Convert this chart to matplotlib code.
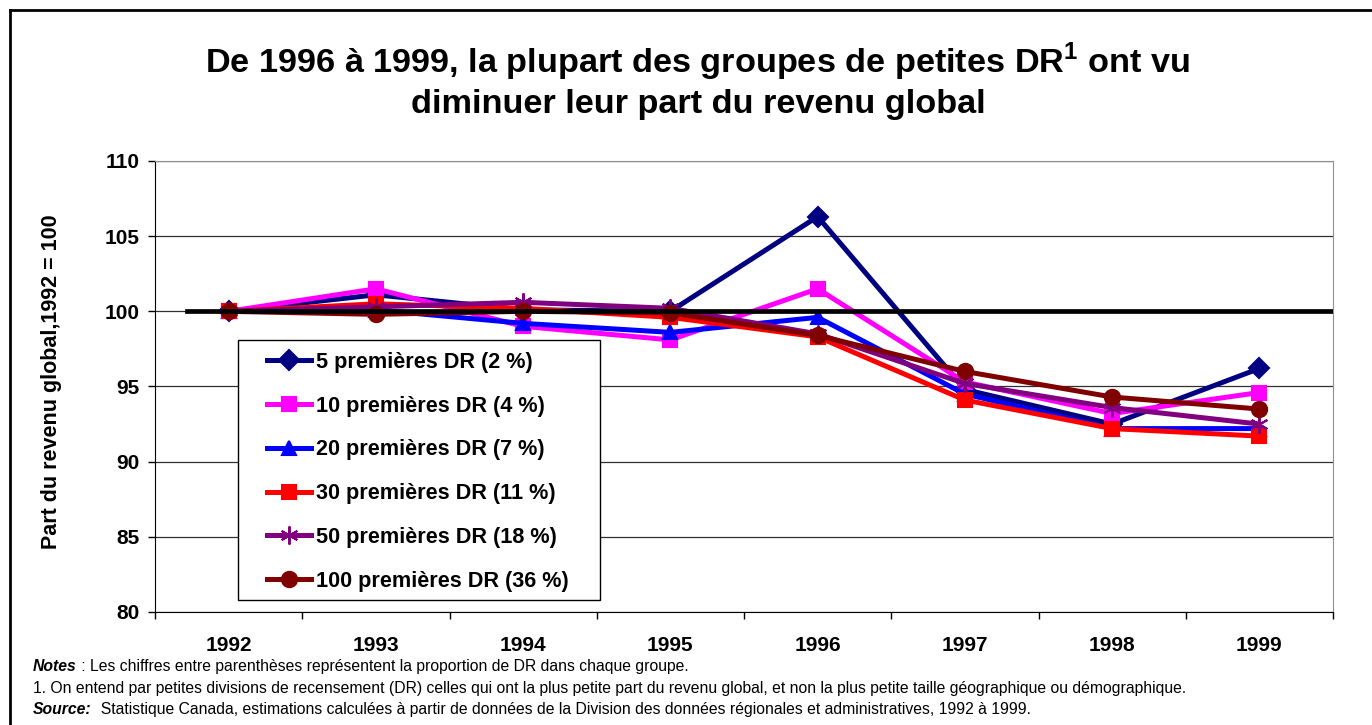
import numpy as np
import matplotlib
matplotlib.use("Agg")
import matplotlib.pyplot as plt
from matplotlib.lines import Line2D
from matplotlib.patches import Rectangle

plt.rcParams['font.family'] = ['Liberation Sans', 'DejaVu Sans']
plt.rcParams['mathtext.fontset'] = 'custom'
plt.rcParams['mathtext.bf'] = 'Liberation Sans:bold'
plt.rcParams['mathtext.rm'] = 'Liberation Sans'

###
### data
###

years = ['1992', '1993', '1994', '1995', '1996', '1997', '1998', '1999']

labels = ['5 premières DR (2 %)', '10 premières DR (4 %)', '20 premières DR (7 %)',
          '30 premières DR (11 %)', '50 premières DR (18 %)', '100 premières DR (36 %)']

dr5   = [100.0, 101.1, 100.1, 100.0, 106.3, 94.8, 92.5, 96.2]
dr10  = [100.0, 101.5,  99.0,  98.1, 101.5, 95.3, 93.2, 94.6]
dr20  = [100.0, 100.1,  99.2,  98.6,  99.6, 94.5, 92.2, 92.2]
dr30  = [100.0, 100.5, 100.2,  99.6,  98.3, 94.1, 92.2, 91.7]
dr50  = [100.0, 100.3, 100.6, 100.2,  98.5, 95.2, 93.6, 92.5]
dr100 = [100.0,  99.8, 100.0,  99.9,  98.4, 96.0, 94.3, 93.5]

base = 100

###
### plot
###

W, H = 1372, 725
fig = plt.figure(figsize=(W / 100, H / 100), dpi=100)
ax = fig.add_axes([155 / W, 1 - 612 / H, (1333 - 155) / W, (612 - 161) / H])

series = [dr5, dr10, dr20, dr30, dr50, dr100]
colors = ['#000080', '#FF00FF', '#0000FF', '#FF0000', '#800080', '#800000']
markers = ['D', 's', '^', 's', (6, 2, 0), 'o']
msizes = [10, 10.5, 10.5, 10.5, 13, 11]

x = np.arange(len(years))
for vals, lab, c, m, ms in zip(series, labels, colors, markers, msizes):
    ax.plot(x, vals, color=c, lw=3.6, marker=m, markersize=ms,
            markerfacecolor=c, markeredgecolor=c, markeredgewidth=1.5, label=lab)

# reference line at 100
ax.plot([-0.28, 7.5], [base, base], color='black', lw=3.4, zorder=5)

ax.set_xlim(-0.5, 7.5)
ax.set_ylim(80, 110)
ax.set_yticks(np.arange(80, 111, 5))
ax.yaxis.grid(True, color='#303030', lw=0.9)
ax.set_axisbelow(True)

ax.set_xticks(np.arange(-0.5, 8, 1))
ax.set_xticklabels([])
ax.set_xticks(x, minor=True)
ax.set_xticklabels(years, minor=True, fontsize=15, fontweight='bold')
ax.tick_params(axis='x', which='major', direction='out', length=5, width=1)
ax.tick_params(axis='x', which='minor', length=0, pad=17)
ax.tick_params(axis='y', direction='out', length=5, width=1, pad=6, labelsize=15)
for t in ax.get_yticklabels():
    t.set_fontweight('bold')

ax.spines['left'].set_color('black')
ax.spines['bottom'].set_color('black')
ax.spines['right'].set_color('#909090')
ax.spines['top'].set_color('#909090')

fig.text(52 / W, 1 - 382 / H, 'Part du revenu global,1992 = 100', rotation=90,
         fontsize=15.5, fontweight='bold', ha='center', va='center')

fig.text(698 / W, 1 - 62 / H,
         r'De 1996 à 1999, la plupart des groupes de petites DR$^{\mathbf{1}}$ ont vu',
         fontsize=24.7, fontweight='bold', ha='center', va='center')
fig.text(698 / W, 1 - 104 / H, 'diminuer leur part du revenu global',
         fontsize=24.7, fontweight='bold', ha='center', va='center')

# legend box drawn separately, legend itself without frame
ax.add_patch(Rectangle((238 / W, 1 - 600 / H), (600 - 238) / W, (600 - 340) / H,
                       transform=fig.transFigure, facecolor='white', edgecolor='black',
                       lw=1, zorder=9, clip_on=False))
leg = ax.legend(loc='upper left', bbox_to_anchor=(267 / W, 1 - 352 / H),
                bbox_transform=fig.transFigure, borderaxespad=0, borderpad=0,
                prop={'size': 15.6, 'weight': 'bold'}, frameon=False,
                handlelength=2.05, handletextpad=0.22, labelspacing=1.05)
leg.set_zorder(10)

# footnotes: bold italic lead word followed by regular text on the same baseline
fs = 11.3
renderer = fig.canvas.get_renderer()

def lead_line(y_px, lead, rest):
    t = fig.text(33 / W, 1 - y_px / H, lead, fontsize=fs, fontweight='bold',
                 fontstyle='italic', va='baseline')
    bb = t.get_window_extent(renderer)
    fig.text(bb.x1 / W, 1 - y_px / H, rest, fontsize=fs, va='baseline')

lead_line(671, 'Notes', ' : Les chiffres entre parenthèses représentent la proportion de DR '
          'dans chaque groupe.')
fig.text(33 / W, 1 - 693 / H,
         '1. On entend par petites divisions de recensement (DR) celles qui ont la plus petite part '
         'du revenu global, et non la plus petite taille géographique ou démographique.',
         fontsize=fs, va='baseline')
lead_line(714, 'Source:', '  Statistique Canada, estimations calculées à partir de données de '
          'la Division des données régionales et administratives, 1992 à 1999.')

# outer frame
fig.add_artist(Line2D([10 / W, 10 / W], [0, 1 - 10 / H], color='black', lw=2,
                      transform=fig.transFigure))
fig.add_artist(Line2D([10 / W, 1], [1 - 10 / H, 1 - 10 / H], color='black', lw=2,
                      transform=fig.transFigure))

fig.savefig('out.png', dpi=100)
